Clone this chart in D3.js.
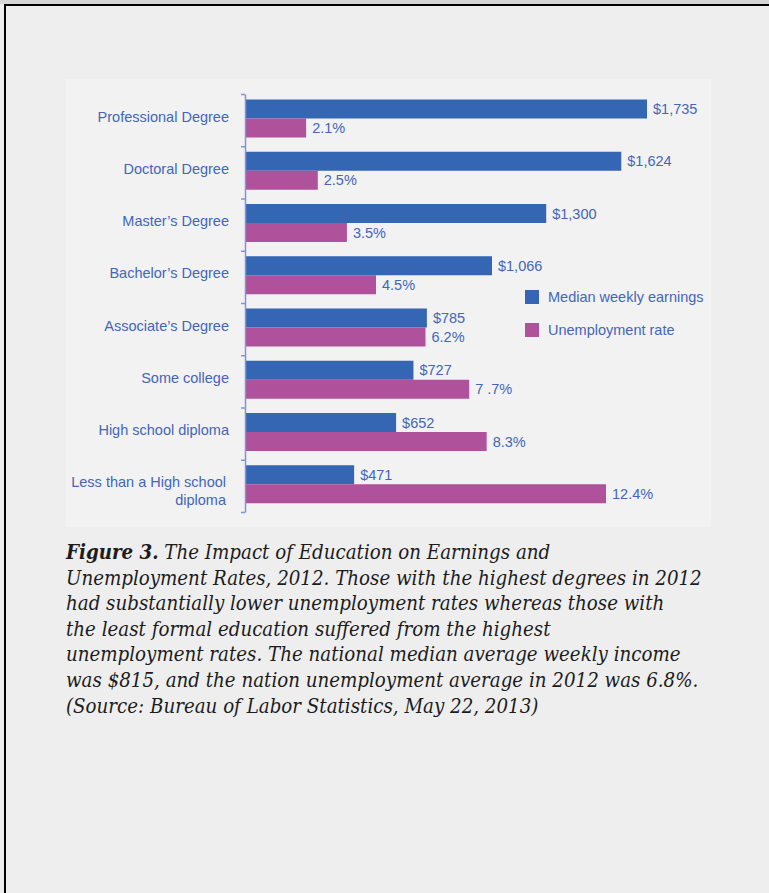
<!DOCTYPE html>
<html>
<head>
<meta charset="utf-8">
<script src="https://cdn.jsdelivr.net/npm/d3@7"></script>
<style>
  html, body { margin: 0; padding: 0; background: #eeeeee; }
  svg { display: block; }
</style>
</head>
<body>
<div id="chart"></div>
<script>
const categories = [
  "Professional Degree", "Doctoral Degree", "Master\u2019s Degree", "Bachelor\u2019s Degree",
  "Associate\u2019s Degree", "Some college", "High school diploma", "Less than a High school|diploma"
];
const earnings = [1735, 1624, 1300, 1066, 785, 727, 652, 471];
const unemployment = [2.1, 2.5, 3.5, 4.5, 6.2, 7.7, 8.3, 12.4];
const rateLabels = ["2.1%", "2.5%", "3.5%", "4.5%", "6.2%", "7 .7%", "8.3%", "12.4%"];
const seriesNames = ["Median weekly earnings", "Unemployment rate"];
const captionLines = [
  "The Impact of Education on Earnings and",
  "Unemployment Rates, 2012. Those with the highest degrees in 2012",
  "had substantially lower unemployment rates whereas those with",
  "the least formal education suffered from the highest",
  "unemployment rates. The national median average weekly income",
  "was $815, and the nation unemployment average in 2012 was 6.8%.",
  "(Source: Bureau of Labor Statistics, May 22, 2013)"
];

const BLUE = "#3466b3", MAGENTA = "#b0519c", TEXT = "#4466b8", AXIS = "#8394d2";
const W = 769, H = 893;

const svg = d3.select("#chart").append("svg").attr("width", W).attr("height", H);

// page frame
svg.append("rect").attr("x", 0).attr("y", 0).attr("width", W).attr("height", 4).attr("fill", "#d6d6d6");
svg.append("line").attr("x1", 4).attr("x2", W).attr("y1", 5).attr("y2", 5).attr("stroke", "#000").attr("stroke-width", 2);
svg.append("line").attr("x1", 5).attr("x2", 5).attr("y1", 4).attr("y2", H).attr("stroke", "#000").attr("stroke-width", 2);

// chart panel
svg.append("rect").attr("x", 66).attr("y", 79).attr("width", 645).attr("height", 448).attr("fill", "#f2f2f2");

const x0 = 245;
const xEarn = d3.scaleLinear().domain([0, 1735]).range([x0, 647]);
const xRate = d3.scaleLinear().domain([0, 12.4]).range([x0, 606]);
const yIdx = d3.scaleLinear().domain([0, categories.length]).range([94, 512]);
const yBand = d3.scaleBand().domain(d3.range(categories.length)).range([94, 512]);
const sub = d3.scaleBand().domain([0, 1]).range([5.5, 43.5]);

const g = svg.append("g").attr("font-family", "'Liberation Sans', Arial, sans-serif").attr("font-size", 14.5);

// bars
g.selectAll(".earn").data(earnings).join("rect").attr("class", "earn")
  .attr("x", x0).attr("y", (d, i) => yBand(i) + sub(0))
  .attr("width", d => xEarn(d) - x0).attr("height", sub.bandwidth())
  .attr("fill", BLUE);
g.selectAll(".rate").data(unemployment).join("rect").attr("class", "rate")
  .attr("x", x0).attr("y", (d, i) => yBand(i) + sub(1))
  .attr("width", d => xRate(d) - x0).attr("height", sub.bandwidth())
  .attr("fill", MAGENTA);

// value labels
const fmtMoney = d3.format("$,");
g.selectAll(".earn-lbl").data(earnings).join("text").attr("class", "earn-lbl")
  .attr("x", d => xEarn(d) + 6).attr("y", (d, i) => yBand(i) + sub(0) + sub.bandwidth() / 2)
  .attr("dy", "0.35em").attr("fill", TEXT).text(d => fmtMoney(d));
g.selectAll(".rate-lbl").data(unemployment).join("text").attr("class", "rate-lbl")
  .attr("x", d => xRate(d) + 6).attr("y", (d, i) => yBand(i) + sub(1) + sub.bandwidth() / 2)
  .attr("dy", "0.35em").attr("fill", TEXT).text((d, i) => rateLabels[i]);

// axis with ticks at category boundaries
const axisG = g.append("g").attr("transform", `translate(${x0},0)`)
  .call(d3.axisLeft(yIdx).tickValues(d3.range(categories.length + 1)).tickFormat("").tickSize(4).tickSizeOuter(0));
axisG.select(".domain").attr("stroke", AXIS).attr("stroke-width", 1.5);
axisG.selectAll(".tick line").attr("stroke", AXIS).attr("stroke-width", 1.5);

// category labels
g.selectAll(".cat").data(categories).join("text").attr("class", "cat")
  .attr("text-anchor", "end").attr("fill", TEXT)
  .each(function (d, i) {
    const lines = d.split("|");
    const yc = yBand(i) + sub(1) - 2;
    const t = d3.select(this);
    lines.forEach((ln, k) => {
      t.append("tspan").attr("x", lines.length > 1 ? 226 : 229)
        .attr("y", yc + k * 18).attr("dy", "0.35em").text(ln);
    });
  });

// legend
const legend = g.append("g");
[BLUE, MAGENTA].forEach((c, i) => {
  legend.append("rect").attr("x", 525).attr("y", 290 + i * 33).attr("width", 14).attr("height", 14).attr("fill", c);
  legend.append("text").attr("x", 548).attr("y", 297 + i * 33).attr("dy", "0.35em")
    .attr("fill", TEXT).text(seriesNames[i]);
});

// caption
const cap = svg.append("g").attr("font-family", "'DejaVu Serif Condensed', 'DejaVu Serif', serif").attr("font-style", "italic")
  .attr("fill", "#1c1c1c");
let fs = 18;
const lineEls = captionLines.map((ln, i) => {
  const t = cap.append("text").attr("x", 66).attr("y", 559 + i * 25.6).attr("font-size", fs);
  if (i === 0) t.append("tspan").attr("font-weight", "bold").text("Figure 3.");
  t.append("tspan").text((i === 0 ? " " : "") + ln);
  return t;
});
// fit second line to its width in the source
const w2 = lineEls[1].node().getComputedTextLength();
fs = fs * 636 / w2;
lineEls.forEach(t => t.attr("font-size", fs));
</script>
</body>
</html>
